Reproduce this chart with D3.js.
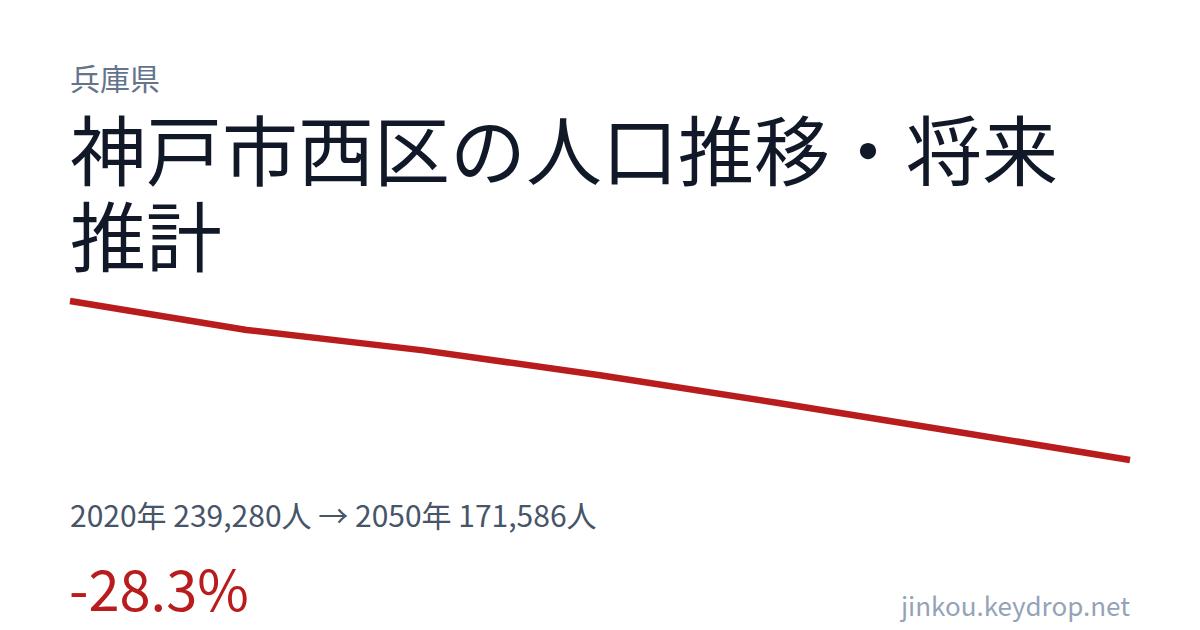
<!DOCTYPE html>
<html>
<head>
<meta charset="utf-8">
<script src="https://cdn.jsdelivr.net/npm/d3@7"></script>
<style>
  body { margin: 0; background: #fff; }
  svg { display: block; font-family: "Noto Sans CJK JP", "Noto Sans", sans-serif; }
</style>
</head>
<body>
<svg width="1200" height="630"></svg>
<script>
const svg = d3.select("svg");
const width = 1200;
const height = 630;

const prefecture = "兵庫県";
const title = "神戸市西区の人口推移・将来推計";
const years = [2020, 2025, 2030, 2035, 2040, 2045, 2050];
const population = [239280, 226950, 218250, 207650, 195950, 183850, 171586];
const footer = "jinkou.keydrop.net";

const x = d3.scalePoint()
  .domain(years)
  .range([70, 1130]);

const y = d3.scaleLinear()
  .domain(d3.extent(population))
  .range([460, 301]);

// plain hyphen for the minus sign, like the original
const locale = d3.formatLocale({
  decimal: ".", thousands: ",", grouping: [3], currency: ["", ""], minus: "-"
});
const fmt = locale.format(",");
const pct = locale.format(".1f");

svg.append("rect")
  .attr("width", width)
  .attr("height", height)
  .attr("fill", "#ffffff");

// prefecture label
svg.append("text")
  .attr("x", 70)
  .attr("y", 90)
  .attr("font-size", 30)
  .attr("fill", "#64748b")
  .text(prefecture);

// title, wrapped by character to fit the width
const titleText = svg.append("text")
  .attr("x", 70)
  .attr("font-size", 76)
  .attr("fill", "#111827");

const maxWidth = 1060;
const lines = [];
let current = "";
const probe = titleText.append("tspan");
for (const ch of title) {
  probe.text(current + ch);
  if (probe.node().getComputedTextLength() > maxWidth && current) {
    lines.push(current);
    current = ch;
  } else {
    current += ch;
  }
}
lines.push(current);
probe.remove();

titleText.selectAll("tspan")
  .data(lines)
  .join("tspan")
  .attr("x", 70)
  .attr("y", (d, i) => 180 + i * 86)
  .text(d => d);

// population line
const line = d3.line()
  .x((d, i) => x(years[i]))
  .y(d => y(d));

svg.append("path")
  .datum(population)
  .attr("d", line)
  .attr("fill", "none")
  .attr("stroke", "#b91c1c")
  .attr("stroke-width", 6.5)
  .attr("stroke-linejoin", "round");

const first = population[0];
const last = population[population.length - 1];

svg.append("text")
  .attr("x", 70)
  .attr("y", 527)
  .attr("font-size", 30)
  .attr("fill", "#475569")
  .text(`${years[0]}年 ${fmt(first)}人 → ${years[years.length - 1]}年 ${fmt(last)}人`);

svg.append("text")
  .attr("x", 69)
  .attr("y", 611)
  .attr("font-size", 56)
  .attr("fill", "#b91c1c")
  .text(`${pct((last - first) / first * 100)}%`);

svg.append("text")
  .attr("x", 1130)
  .attr("y", 616)
  .attr("text-anchor", "end")
  .attr("font-size", 26)
  .attr("fill", "#94a3b8")
  .text(footer);
</script>
</body>
</html>
